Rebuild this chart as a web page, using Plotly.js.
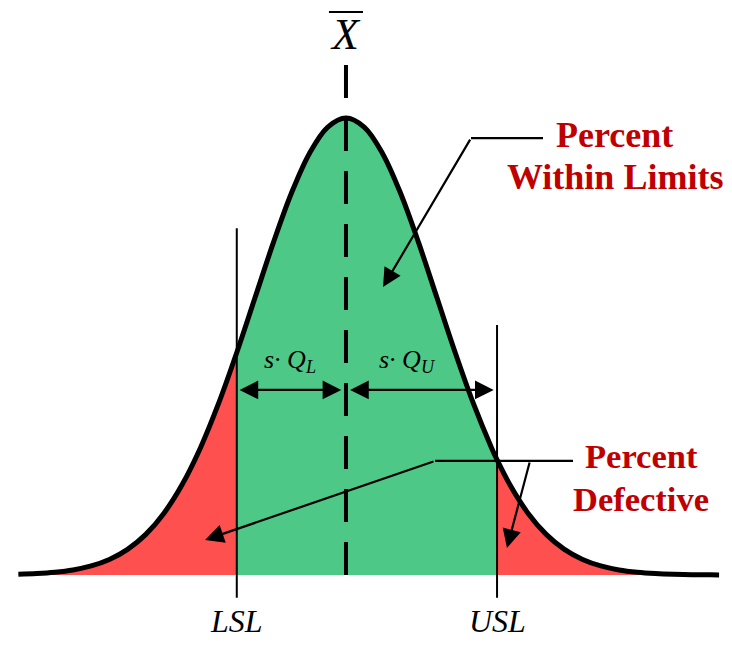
<!DOCTYPE html>
<html><head><meta charset="utf-8">
<script src="https://cdn.plot.ly/plotly-3.0.1.min.js"></script>
<style>html,body{margin:0;padding:0;background:#fff}</style>
</head><body><div id="chart" style="width:732px;height:645px"></div>
<script>
// Position along the measurement axis (in standard deviations from the mean)
const zValues = [-3.6,-3.4,-3.2,-3.0,-2.8,-2.6,-2.4,-2.2,-2.0,-1.8,-1.6,-1.4,-1.2,-1.0,-0.8,-0.6,-0.4,-0.2,0,
  0.2,0.4,0.6,0.8,1.0,1.2,1.4,1.6,1.66,1.8,2.0,2.2,2.4,2.6,2.8,3.0,3.2,3.4,3.6,3.8,4.0,4.1];
// Relative height of the distribution curve (peak = 1)
const density = [0.0015,0.0031,0.0060,0.0111,0.0198,0.0340,0.0561,0.0889,0.1353,0.1979,0.2780,0.3753,0.4868,0.6065,0.7261,0.8353,0.9231,0.9802,1.0,
  0.9802,0.9231,0.8353,0.7261,0.6065,0.4868,0.3753,0.2780,0.2521,0.1979,0.1353,0.0889,0.0561,0.0340,0.0198,0.0111,0.0060,0.0031,0.0015,0.0007,0.0003,0.0002];
const MEAN = 0, LSL = -1.2, USL = 1.66;
const specLabels = ['LSL', 'USL'];
const textLabels = {within: ['Percent', 'Within Limits'], defective: ['Percent', 'Defective']};

const GREEN = '#4dc886', RED = '#ff5050', DARKRED = '#c00000';
const seg = (lo, hi) => {
  const x = [], y = [];
  zValues.forEach((z, i) => { if (z >= lo - 1e-9 && z <= hi + 1e-9) { x.push(z); y.push(density[i]); } });
  return {x, y};
};
const left = seg(-Infinity, LSL), mid = seg(LSL, USL), right = seg(USL, Infinity);
const fillTrace = (s, c) => ({x: s.x, y: s.y, type: 'scatter', mode: 'lines', fill: 'tozeroy',
  fillcolor: c, line: {width: 0, shape: 'spline', color: c}, hoverinfo: 'skip'});

const traces = [
  fillTrace(left, RED), fillTrace(mid, GREEN), fillTrace(right, RED),
  {x: zValues, y: density, type: 'scatter', mode: 'lines', line: {color: '#000', width: 5, shape: 'spline'}, hoverinfo: 'skip'}
];

const serif = 'Liberation Serif, Times New Roman, serif';
const arrowAnn = (x, y, ax, ay, both) => ({x, y, ax, ay, axref: 'x', ayref: 'y', xref: 'x', yref: 'y', text: '',
  showarrow: true, arrowhead: 2, arrowsize: 1.7, arrowwidth: 2.2, arrowcolor: '#000', standoff: 0, startstandoff: 0,
  arrowside: both ? 'end+start' : 'end'});
const txt = (x, y, t, font) => ({x, y, xref: 'x', yref: 'y', text: t, showarrow: false,
  xanchor: 'center', yanchor: 'middle', font: Object.assign({family: serif, color: '#000'}, font)});

const layout = {
  width: 732, height: 645, autosize: false,
  margin: {l: 0, r: 0, t: 0, b: 0},
  paper_bgcolor: '#fff', plot_bgcolor: '#fff', showlegend: false,
  xaxis: {range: [-3.802, 4.242], visible: false, fixedrange: true},
  yaxis: {range: [-0.1532, 1.2582], visible: false, fixedrange: true},
  shapes: [
    {type: 'line', x0: LSL, x1: LSL, y0: 0.759, y1: -0.05, line: {color: '#000', width: 2}, layer: 'above'},
    {type: 'line', x0: USL, x1: USL, y0: 0.547, y1: -0.05, line: {color: '#000', width: 2}, layer: 'above'},
    {type: 'line', x0: MEAN, x1: MEAN, y0: 1.116, y1: 0, line: {color: '#000', width: 4, dash: '33px,20px'}, layer: 'above'},
    {type: 'line', x0: -0.187, x1: 0.187, y0: 1.232, y1: 1.232, line: {color: '#000', width: 2}},
    {type: 'line', x0: 2.165, x1: 1.374, y0: 0.956, y1: 0.956, line: {color: '#000', width: 2.2}, layer: 'above'},
    {type: 'line', x0: 2.495, x1: 0.978, y0: 0.2495, y1: 0.2495, line: {color: '#000', width: 2.2}, layer: 'above'}
  ],
  annotations: [
    arrowAnn(LSL + 0.03, 0.405, MEAN - 0.035, 0.405, true),
    arrowAnn(MEAN + 0.045, 0.405, USL - 0.02, 0.405, true),
    arrowAnn(0.407, 0.630, 1.374, 0.956, false),
    arrowAnn(-1.549, 0.0766, 0.978, 0.2495, false),
    arrowAnn(1.769, 0.059, 2.022, 0.2495, false),
    txt(-0.615, 0.468, 's· Q<sub>L</sub>', {size: 26, style: 'italic'}),
    txt(0.681, 0.468, 's· Q<sub>U</sub>', {size: 26, style: 'italic'}),
    txt(MEAN, 1.182, 'X', {size: 44, style: 'italic'}),
    txt(LSL, -0.1, specLabels[0], {size: 32, style: 'italic'}),
    txt(USL, -0.1, specLabels[1], {size: 32, style: 'italic'}),
    txt(2.956, 0.963, textLabels.within[0], {size: 36, color: DARKRED, weight: 'bold'}),
    txt(2.956, 0.871, textLabels.within[1], {size: 36, color: DARKRED, weight: 'bold'}),
    txt(3.25, 0.2606, textLabels.defective[0], {size: 34.5, color: DARKRED, weight: 'bold'}),
    txt(3.247, 0.1665, textLabels.defective[1], {size: 34.5, color: DARKRED, weight: 'bold'})
  ]
};
Plotly.newPlot('chart', traces, layout, {staticPlot: true, displayModeBar: false});
</script></body></html>
